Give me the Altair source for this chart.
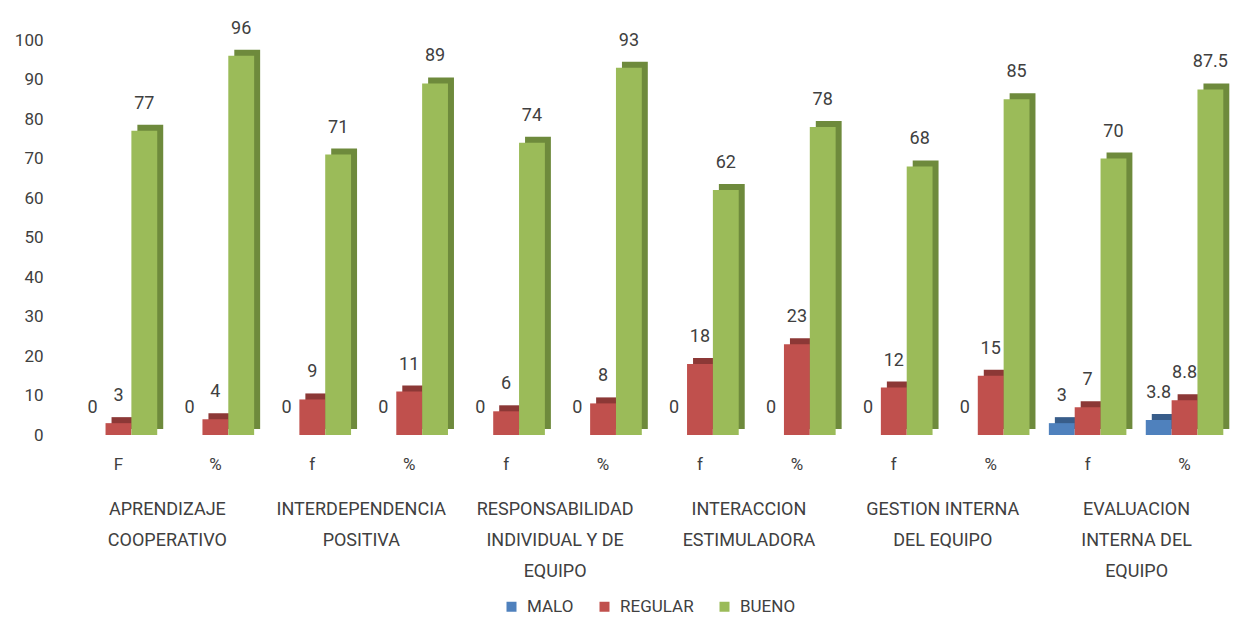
import altair as alt
import pandas as pd

FONT = "Roboto, sans-serif"

categories = [
    "APRENDIZAJE|COOPERATIVO",
    "INTERDEPENDENCIA|POSITIVA",
    "RESPONSABILIDAD|INDIVIDUAL Y DE|EQUIPO",
    "INTERACCION|ESTIMULADORA",
    "GESTION INTERNA|DEL EQUIPO",
    "EVALUACION|INTERNA DEL|EQUIPO",
]
sub_labels = ["F", "%", "f", "%", "f", "%", "f", "%", "f", "%", "f", "%"]
series = ["MALO", "REGULAR", "BUENO"]
malo = [0, 0, 0, 0, 0, 0, 0, 0, 0, 0, 3, 3.8]
regular = [3, 4, 9, 11, 6, 8, 18, 23, 12, 15, 7, 8.8]
bueno = [77, 96, 71, 89, 74, 93, 62, 78, 68, 85, 70, 87.5]
colors = ["#4F81BD", "#C0504D", "#9BBB59"]
dark_colors = ["#385D8A", "#8C3836", "#6E8A3C"]

groups = [f"{i:02d}|{s}" for i, s in enumerate(sub_labels)]

W, H = 1163, 395
PAD_IN, PAD_OUT = 0.2, 0.1
step = W / (len(groups) - PAD_IN + 2 * PAD_OUT)
band = step * (1 - PAD_IN)
D = 6  # depth of the pseudo-3D face


def fmt(v):
    return str(int(v)) if float(v).is_integer() else str(v)


rows = []
for i, g in enumerate(groups):
    for s, vals in zip(series, [malo, regular, bueno]):
        rows.append({
            "group": g,
            "category": categories[i // 2],
            "series": s,
            "value": vals[i],
            "label": fmt(vals[i]),
        })
df = pd.DataFrame(rows)
cat_df = pd.DataFrame({"category": categories})

x_group_scale = alt.Scale(paddingInner=PAD_IN, paddingOuter=PAD_OUT)

x_bars = alt.X(
    "group:N", sort=groups, scale=x_group_scale,
    axis=alt.Axis(
        title=None, labelExpr="split(datum.value, '|')[1]", labelAngle=0,
        domain=False, ticks=False, labelPadding=21, labelFontSize=17,
        labelColor="#404040", labelFont=FONT,
    ),
)
xoff = alt.XOffset("series:N", sort=series, scale=alt.Scale(domain=series))
xoff_depth = alt.XOffset(
    "series:N", sort=series,
    scale=alt.Scale(domain=series, range=[D, band + D]),
)
y_enc = alt.Y(
    "value:Q", scale=alt.Scale(domain=[0, 100]),
    axis=alt.Axis(
        title=None, values=list(range(0, 101, 10)), grid=False, domain=False,
        ticks=False, labelPadding=27, labelFontSize=17, labelColor="#404040",
        labelFont=FONT, labelOverlap=False,
    ),
)
color_enc = alt.Color(
    "series:N", sort=series, scale=alt.Scale(domain=series, range=colors),
    legend=alt.Legend(
        title=None, orient="none", legendX=433, legendY=558,
        direction="horizontal", symbolType="square", symbolSize=100,
        symbolStrokeWidth=0, labelFontSize=17, labelFont=FONT,
        labelColor="#404040", columnPadding=22, labelOffset=7,
    ),
)
dark_enc = alt.Color(
    "series:N", sort=series, scale=alt.Scale(domain=series, range=dark_colors),
    legend=None,
)

depth = alt.Chart(df).mark_bar(yOffset=-D).encode(
    x=x_bars, xOffset=xoff_depth, y=y_enc, color=dark_enc,
)
bars = alt.Chart(df).mark_bar().encode(
    x=x_bars, xOffset=xoff, y=y_enc, color=color_enc,
)
texts = alt.Chart(df).mark_text(
    baseline="bottom", dy=-18, fontSize=18, font=FONT, color="#404040",
).encode(
    x=x_bars, xOffset=xoff, y=y_enc, text="label:N",
)

cats = alt.Chart(cat_df).mark_text(opacity=0).encode(
    x=alt.X(
        "category:N", sort=categories,
        scale=alt.Scale(paddingInner=0, paddingOuter=0),
        axis=alt.Axis(
            title=None, orient="bottom", labelExpr="split(datum.value, '|')",
            labelAngle=0, domain=False, ticks=False, labelPadding=65,
            labelFontSize=18, labelLineHeight=31, labelColor="#404040",
            labelFont=FONT, labelBaseline="top",
        ),
    ),
    text=alt.value(""),
)

inner = alt.layer(depth, bars, texts).resolve_scale(
    color="independent", xOffset="independent"
)

chart = alt.layer(inner, cats).resolve_scale(x="independent").properties(
    width=W, height=H,
    autosize=alt.AutoSizeParams(type="none"),
    padding={"left": 62, "top": 32, "right": 0, "bottom": 180},
).configure_view(stroke=None)

chart.save("out.html", embed_options={"renderer": "svg", "actions": False})
